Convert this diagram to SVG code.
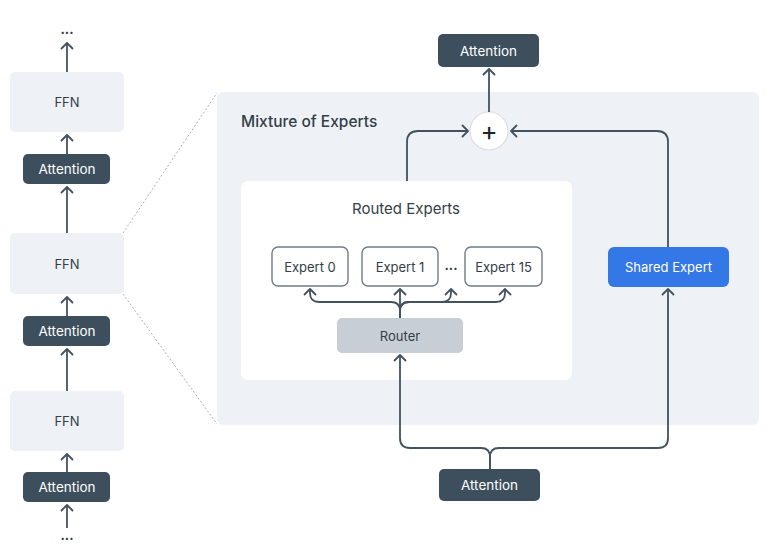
<svg xmlns="http://www.w3.org/2000/svg" width="773" height="551" viewBox="0 0 773 551">
<defs>
<marker id="ah" viewBox="-7 -7 9 14" markerWidth="9" markerHeight="14" refX="0" refY="0" orient="auto" markerUnits="userSpaceOnUse">
<path d="M-5.5,-5.5 L0,0 L-5.5,5.5" fill="none" stroke="#44525e" stroke-width="1.8" stroke-linecap="round" stroke-linejoin="round"/>
</marker>
</defs>
<style>
text{font-family:Inter,"Noto Sans","Liberation Sans",sans-serif;text-anchor:middle;dominant-baseline:central}
.ffn{fill:#eef1f6}
.dark{fill:#3d4f5c}
.dt{fill:#ffffff;font-size:13.5px}
.lt{fill:#333e48;font-size:13px}
.exp{fill:#ffffff;stroke:#6f7c88;stroke-width:1.4}
.c{fill:none;stroke:#44525e;stroke-width:1.8;marker-end:url(#ah)}
.dot{fill:none;stroke:#a9b2bb;stroke-width:1;stroke-dasharray:2 2}
</style>
<rect width="773" height="551" fill="#ffffff"/>
<g id="zoom-lines">
<line class="dot" x1="123" y1="233" x2="217" y2="93"/>
<line class="dot" x1="123" y1="294" x2="217" y2="424"/>
</g>
<g id="moe-panel">
<rect x="217" y="92" width="542" height="333" rx="6" fill="#eef1f6"/>
<text x="241" y="121" style="text-anchor:start;font-size:15.5px;font-weight:500" fill="#333e48">Mixture of Experts</text>
</g>
<g id="routed-experts">
<rect x="241" y="181" width="331" height="199" rx="7" fill="#ffffff"/>
<text x="406" y="208" class="lt" style="font-size:15px">Routed Experts</text>
</g>
<g id="ffn1"><rect class="ffn" x="10" y="72" width="114" height="60" rx="5"/><text class="lt" x="67" y="102">FFN</text></g>
<g id="attn1"><rect class="dark" x="23" y="154" width="87" height="30" rx="5"/><text class="dt" x="67" y="169">Attention</text></g>
<g id="ffn2"><rect class="ffn" x="10" y="233" width="114" height="61" rx="5"/><text class="lt" x="67" y="264">FFN</text></g>
<g id="attn2"><rect class="dark" x="23" y="316" width="87" height="30" rx="5"/><text class="dt" x="67" y="331">Attention</text></g>
<g id="ffn3"><rect class="ffn" x="10" y="391" width="114" height="60" rx="5"/><text class="lt" x="67" y="421">FFN</text></g>
<g id="attn3"><rect class="dark" x="23" y="472" width="87" height="30" rx="5"/><text class="dt" x="67" y="487">Attention</text></g>
<g id="dots-top"><text class="lt" x="67" y="29" style="font-weight:700">...</text></g>
<g id="dots-bottom"><text class="lt" x="67" y="535" style="font-weight:700">...</text></g>
<g id="attn-top"><rect class="dark" x="438" y="34" width="101" height="33" rx="5"/><text class="dt" x="488.5" y="50.5">Attention</text></g>
<g id="plus"><circle cx="489" cy="131" r="19" fill="#ffffff" stroke="#d9dee4" stroke-width="1.2"/><text x="489" y="130" fill="#1e262d" style="font-size:26px;font-weight:400">+</text></g>
<g id="expert0"><rect class="exp" x="272" y="247" width="76" height="39" rx="6"/><text class="lt" x="310" y="267">Expert 0</text></g>
<g id="expert1"><rect class="exp" x="362" y="247" width="76" height="39" rx="6"/><text class="lt" x="400" y="267">Expert 1</text></g>
<g id="expert-dots"><text class="lt" x="451" y="265" style="font-weight:700">...</text></g>
<g id="expert15"><rect class="exp" x="465" y="247" width="77" height="39" rx="6"/><text class="lt" x="503.5" y="267">Expert 15</text></g>
<g id="router"><rect x="337" y="318" width="126" height="35" rx="5" fill="#c8ced6"/><text class="lt" x="400" y="335.5">Router</text></g>
<g id="shared-expert"><rect x="608" y="247" width="121" height="40" rx="6" fill="#3478e8"/><text x="668.5" y="267" fill="#ffffff" style="font-size:13px">Shared Expert</text></g>
<g id="attn-bottom"><rect class="dark" x="439" y="469" width="101" height="32" rx="5"/><text class="dt" x="489.5" y="485">Attention</text></g>
<g id="connectors">
<line class="c" x1="67" y1="72" x2="67" y2="43"/>
<line class="c" x1="67" y1="154" x2="67" y2="135"/>
<line class="c" x1="67" y1="233" x2="67" y2="187"/>
<line class="c" x1="67" y1="316" x2="67" y2="297"/>
<line class="c" x1="67" y1="391" x2="67" y2="349"/>
<line class="c" x1="67" y1="472" x2="67" y2="454"/>
<line class="c" x1="67" y1="528" x2="67" y2="505"/>
<line class="c" x1="489" y1="112" x2="489" y2="69"/>
<path class="c" d="M407,181 V142 Q407,131 418,131 H468"/>
<path class="c" d="M668,247 V142 Q668,131 657,131 H511"/>
<line class="c" x1="400" y1="318" x2="400" y2="289"/>
<path class="c" d="M400,318 V311 Q400,302 391,302 H319 Q310,302 310,293 V289"/>
<path class="c" d="M400,318 V311 Q400,302 409,302 H442 Q451,302 451,293 V289"/>
<path class="c" d="M400,318 V311 Q400,302 409,302 H496 Q505,302 505,293 V289"/>
<path class="c" d="M490,469 V457 Q490,448 481,448 H410 Q400,448 400,438 V355"/>
<path class="c" d="M490,469 V457 Q490,448 499,448 H658 Q668,448 668,438 V289"/>
</g>
</svg>
